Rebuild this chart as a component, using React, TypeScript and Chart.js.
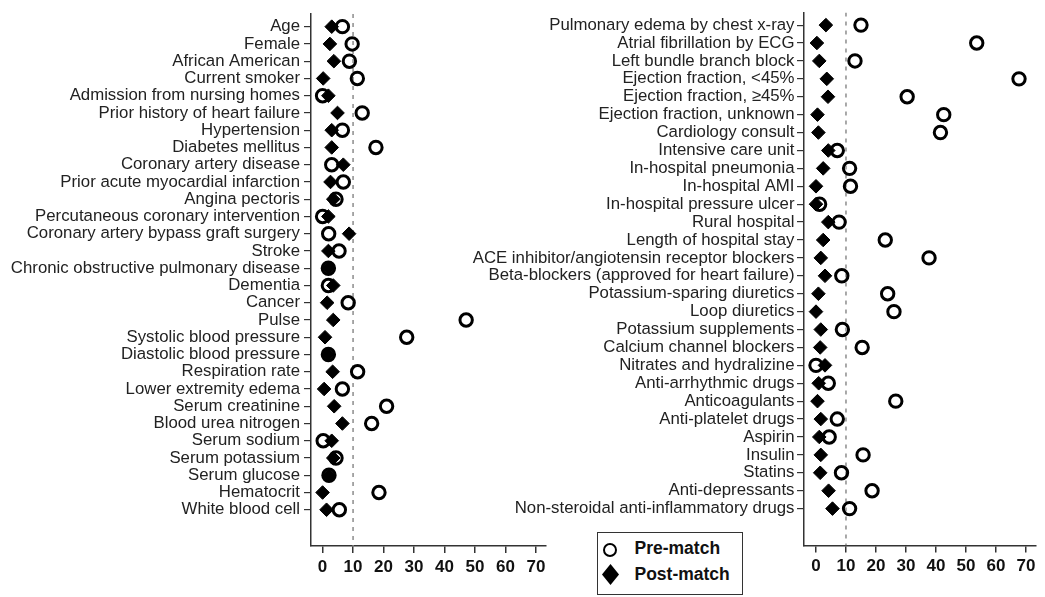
import React, { useEffect, useRef } from "react";
import { Chart, registerables } from "chart.js";

Chart.register(...registerables);

const W = 1045;
const H = 597;
const FONT = 'Arial, "Liberation Sans", Helvetica, sans-serif';
const THRESHOLD = 10;
const xTickValues = [0, 10, 20, 30, 40, 50, 60, 70];

const leftLabels = [
  "Age",
  "Female",
  "African American",
  "Current smoker",
  "Admission from nursing homes",
  "Prior history of heart failure",
  "Hypertension",
  "Diabetes mellitus",
  "Coronary artery disease",
  "Prior acute myocardial infarction",
  "Angina pectoris",
  "Percutaneous coronary intervention",
  "Coronary artery bypass graft surgery",
  "Stroke",
  "Chronic obstructive pulmonary disease",
  "Dementia",
  "Cancer",
  "Pulse",
  "Systolic blood pressure",
  "Diastolic blood pressure",
  "Respiration rate",
  "Lower extremity edema",
  "Serum creatinine",
  "Blood urea nitrogen",
  "Serum sodium",
  "Serum potassium",
  "Serum glucose",
  "Hematocrit",
  "White blood cell",
];

const leftPre = [
  6.5, 9.7, 8.8, 11.4, 0, 13.0, 6.5, 17.5, 3.0, 6.8, 4.4, 0, 2.0, 5.4, 1.9,
  1.9, 8.4, 47.1, 27.6, 1.9, 11.5, 6.5, 21.0, 16.1, 0.2, 4.4, 2.1, 18.5, 5.5,
];

const leftPost = [
  3.0, 2.4, 3.7, 0.2, 1.9, 4.9, 3.0, 3.0, 6.8, 2.6, 3.5, 1.9, 8.7, 1.9, 1.9,
  3.5, 1.5, 3.5, 0.8, 1.9, 3.3, 0.5, 3.8, 6.5, 3.0, 3.5, 2.1, 0, 1.3,
];

const rightLabels = [
  "Pulmonary edema by chest x-ray",
  "Atrial fibrillation by ECG",
  "Left bundle branch block",
  "Ejection fraction, <45%",
  "Ejection fraction, \u226545%",
  "Ejection fraction, unknown",
  "Cardiology consult",
  "Intensive care unit",
  "In-hospital pneumonia",
  "In-hospital AMI",
  "In-hospital pressure ulcer",
  "Rural hospital",
  "Length of hospital stay",
  "ACE inhibitor/angiotensin receptor blockers",
  "Beta-blockers (approved for heart failure)",
  "Potassium-sparing diuretics",
  "Loop diuretics",
  "Potassium supplements",
  "Calcium channel blockers",
  "Nitrates and hydralizine",
  "Anti-arrhythmic drugs",
  "Anticoagulants",
  "Anti-platelet drugs",
  "Aspirin",
  "Insulin",
  "Statins",
  "Anti-depressants",
  "Non-steroidal anti-inflammatory drugs",
];

const rightPre = [
  15.0, 53.6, 13.0, 67.7, 30.4, 42.6, 41.5, 7.1, 11.2, 11.5, 1.2, 7.7, 23.1,
  37.7, 8.6, 23.9, 26.0, 8.8, 15.4, 0, 4.1, 26.6, 7.1, 4.4, 15.7, 8.5, 18.7,
  11.2,
];

const rightPost = [
  3.3, 0.3, 1.1, 3.6, 4.0, 0.5, 0.8, 4.1, 2.4, 0, 0, 4.1, 2.4, 1.6, 3.0, 0.8,
  0, 1.6, 1.4, 3.0, 0.9, 0.5, 1.6, 1.1, 1.6, 1.4, 4.2, 5.5,
];

type PanelCfg = {
  labels: string[];
  pre: number[];
  post: number[];
  yMin: number;
  yMax: number;
  xMin: number;
  xMax: number;
  axisX: number;
  plotRight: number;
  plotTop: number;
  plotBottom: number;
  labelPad: number;
};

const leftCfg: PanelCfg = {
  labels: leftLabels,
  pre: leftPre,
  post: leftPost,
  yMin: -0.73,
  yMax: 30.1,
  xMin: -3.8,
  xMax: 73.3,
  axisX: 311,
  plotRight: 546,
  plotTop: 8,
  plotBottom: 546,
  labelPad: 4,
};

const rightCfg: PanelCfg = {
  labels: rightLabels,
  pre: rightPre,
  post: rightPost,
  yMin: -0.7,
  yMax: 29.06,
  xMin: -4.0,
  xMax: 73.3,
  axisX: 804,
  plotRight: 1039,
  plotTop: 8,
  plotBottom: 545.5,
  labelPad: 2.5,
};

function buildChart(canvas: HTMLCanvasElement, cfg: PanelCfg) {
  const toPts = (vals: number[]) => vals.map((v, i) => ({ x: v, y: i }));
  return new Chart(canvas, {
    type: "scatter",
    data: {
      datasets: [
        {
          label: "Post-match",
          data: toPts(cfg.post),
          pointStyle: "rectRot",
          pointRadius: 6.8,
          pointHoverRadius: 6.8,
          backgroundColor: "#000",
          borderColor: "#000",
          borderWidth: 1,
          order: 0,
        },
        {
          label: "Pre-match",
          data: toPts(cfg.pre),
          pointStyle: "circle",
          pointRadius: 6.2,
          pointHoverRadius: 6.2,
          borderWidth: 3,
          borderColor: "#000",
          backgroundColor: "rgba(0,0,0,0)",
          order: 1,
        },
        {
          type: "line",
          label: "ref",
          data: [
            { x: THRESHOLD, y: cfg.yMin },
            { x: THRESHOLD, y: cfg.yMax },
          ],
          borderColor: "#8c8c8c",
          borderWidth: 1.5,
          borderDash: [4, 5],
          pointRadius: 0,
          showLine: true,
          order: 2,
        } as any,
      ],
    },
    options: {
      responsive: false,
      animation: false,
      devicePixelRatio: 1,
      events: [],
      layout: {
        padding: { left: 0, top: cfg.plotTop, right: W - cfg.plotRight, bottom: 0 },
      },
      plugins: { legend: { display: false }, tooltip: { enabled: false } },
      scales: {
        x: {
          type: "linear",
          min: cfg.xMin,
          max: cfg.xMax,
          afterBuildTicks: (ax: any) => {
            ax.ticks = xTickValues.map((v) => ({ value: v }));
          },
          afterFit: (ax: any) => {
            ax.height = H - cfg.plotBottom;
          },
          grid: {
            drawOnChartArea: false,
            drawTicks: true,
            tickLength: 7,
            color: "#333",
            lineWidth: 1.5,
          },
          border: { display: true, color: "#333", width: 1.5 },
          ticks: {
            font: { family: FONT, size: 17, weight: "bold" },
            color: "#111",
            padding: 4,
            maxRotation: 0,
            autoSkip: false,
          },
        },
        y: {
          type: "linear",
          reverse: true,
          min: cfg.yMin,
          max: cfg.yMax,
          afterBuildTicks: (ax: any) => {
            ax.ticks = cfg.labels.map((_, i) => ({ value: i }));
          },
          afterFit: (ax: any) => {
            ax.width = cfg.axisX;
          },
          grid: {
            drawOnChartArea: false,
            drawTicks: true,
            tickLength: 7,
            color: "#333",
            lineWidth: 1.2,
          },
          border: { display: true, color: "#333", width: 1.5 },
          ticks: {
            callback: (v: any) => cfg.labels[Math.round(Number(v))] ?? "",
            font: { family: FONT, size: 16.8 },
            color: "#222",
            padding: cfg.labelPad,
            autoSkip: false,
          },
        },
      },
    } as any,
  });
}

function Panel({ cfg }: { cfg: PanelCfg }) {
  const ref = useRef<HTMLCanvasElement | null>(null);
  useEffect(() => {
    if (!ref.current) return;
    const chart = buildChart(ref.current, cfg);
    return () => chart.destroy();
  }, [cfg]);
  return (
    <canvas
      ref={ref}
      width={W}
      height={H}
      style={{ position: "absolute", left: 0, top: 0, width: W, height: H }}
    />
  );
}

function Legend() {
  return (
    <div
      style={{
        position: "absolute",
        left: 597,
        top: 532,
        width: 146,
        height: 63,
        border: "1.5px solid #333",
        boxSizing: "border-box",
        background: "#fff",
        fontFamily: FONT,
      }}
    >
      <div
        style={{
          position: "absolute",
          left: 5.2,
          top: 9.5,
          width: 14,
          height: 14,
          border: "2.8px solid #000",
          borderRadius: "50%",
          boxSizing: "border-box",
        }}
      />
      <svg
        width={17}
        height={21}
        style={{ position: "absolute", left: 3.7, top: 31 }}
      >
        <polygon points="8.5,0 17,10.5 8.5,21 0,10.5" fill="#000" />
      </svg>
      <div
        style={{
          position: "absolute",
          left: 36.5,
          top: 5,
          fontSize: 17.5,
          lineHeight: "20px",
          fontWeight: "bold",
          color: "#111",
          whiteSpace: "nowrap",
        }}
      >
        Pre-match
      </div>
      <div
        style={{
          position: "absolute",
          left: 36.5,
          top: 31,
          fontSize: 17.5,
          lineHeight: "20px",
          fontWeight: "bold",
          color: "#111",
          whiteSpace: "nowrap",
        }}
      >
        Post-match
      </div>
    </div>
  );
}

export default function App() {
  return (
    <div
      style={{
        position: "fixed",
        left: 0,
        top: 0,
        width: W,
        height: H,
        background: "#fff",
        overflow: "hidden",
      }}
    >
      <Panel cfg={leftCfg} />
      <Panel cfg={rightCfg} />
      <Legend />
    </div>
  );
}
